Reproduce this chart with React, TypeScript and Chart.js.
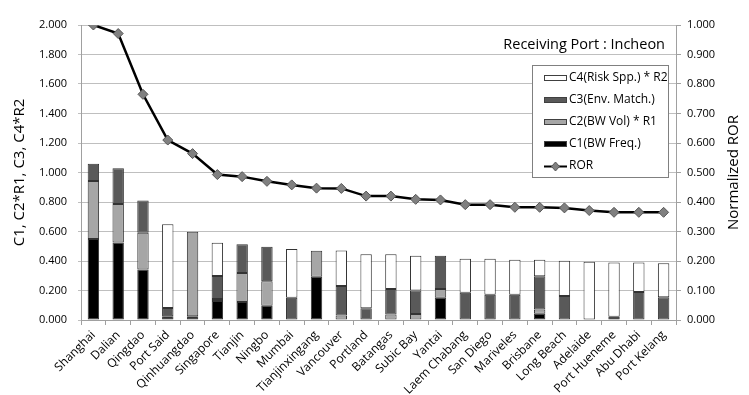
import React, { useEffect, useRef } from "react";
import { Chart, registerables } from "chart.js";

Chart.register(...registerables);

const categories = [
  "Shanghai", "Dalian", "Qingdao", "Port Said", "Qinhuangdao", "Singapore", "Tianjin", "Ningbo",
  "Mumbai", "Tianjinxingang", "Vancouver", "Portland", "Batangas", "Subic Bay", "Yantai",
  "Laem Chabang", "San Diego", "Mariveles", "Brisbane", "Long Beach", "Adelaide",
  "Port Hueneme", "Abu Dhabi", "Port Kelang",
];

const c1BwFreq = [0.55, 0.525, 0.343, 0.025, 0.025, 0.128, 0.122, 0.097, 0, 0.294, 0, 0, 0, 0, 0.151, 0, 0, 0, 0.043, 0, 0, 0.022, 0, 0];
const c2BwVolR1 = [0.393, 0.262, 0.249, 0, 0.574, 0.015, 0.196, 0.165, 0, 0.176, 0.03, 0, 0.038, 0.04, 0.06, 0, 0, 0, 0.029, 0, 0, 0, 0, 0];
const c3EnvMatch = [0.116, 0.242, 0.219, 0.056, 0, 0.155, 0.195, 0.235, 0.151, 0, 0.2, 0.079, 0.172, 0.16, 0.224, 0.185, 0.172, 0.172, 0.224, 0.163, 0, 0, 0.19, 0.154];
const c4RiskR2 = [0, 0, 0, 0.568, 0, 0.226, 0, 0, 0.33, 0, 0.242, 0.366, 0.235, 0.236, 0, 0.231, 0.244, 0.237, 0.113, 0.239, 0.395, 0.367, 0.199, 0.23];
const ror = [1.0, 0.971, 0.765, 0.61, 0.564, 0.493, 0.486, 0.47, 0.458, 0.447, 0.446, 0.42, 0.42, 0.409, 0.407, 0.391, 0.391, 0.382, 0.382, 0.38, 0.371, 0.365, 0.365, 0.365];

const leftAxisTitle = "C1, C2*R1, C3, C4*R2";
const rightAxisTitle = "Normalized ROR";
const chartNote = "Receiving Port : Incheon";

const FONT = "'Open Sans', 'DejaVu Sans', sans-serif";
const nz = (a: number[]) => a.map((v) => (v === 0 ? null : v));

const overlayPlugin = {
  id: "overlay",
  afterDraw(chart: any) {
    const ctx = chart.ctx;
    const area = chart.chartArea;
    ctx.save();
    ctx.font = `14.5px ${FONT}`;
    ctx.fillStyle = "#000";
    ctx.textAlign = "right";
    ctx.textBaseline = "middle";
    ctx.fillText(chartNote, 665, 45);

    // right axis title, reading bottom-to-top
    ctx.save();
    ctx.translate(734, (area.top + area.bottom) / 2);
    ctx.rotate(-Math.PI / 2);
    ctx.font = `15px ${FONT}`;
    ctx.textAlign = "center";
    ctx.textBaseline = "middle";
    ctx.fillText(rightAxisTitle, 0, 0);
    ctx.restore();

    const bx = 532, by = 65, bw = 136, bh = 112;
    ctx.fillStyle = "#fff";
    ctx.fillRect(bx, by, bw, bh);
    ctx.strokeStyle = "#808080";
    ctx.lineWidth = 1;
    ctx.strokeRect(bx + 0.5, by + 0.5, bw, bh);

    const order = [3, 2, 1, 0, 4];
    const ys = [78, 100, 122, 144, 166];
    order.forEach((di, k) => {
      const ds = chart.data.datasets[di];
      const y = ys[k];
      if (ds.type === "line") {
        ctx.strokeStyle = "#000";
        ctx.lineWidth = 2;
        ctx.beginPath();
        ctx.moveTo(544, y + 0.5);
        ctx.lineTo(567, y + 0.5);
        ctx.stroke();
        ctx.fillStyle = "#808080";
        ctx.strokeStyle = "#555";
        ctx.lineWidth = 1;
        ctx.beginPath();
        ctx.moveTo(555.5, y - 4);
        ctx.lineTo(559.5, y + 0.5);
        ctx.lineTo(555.5, y + 5);
        ctx.lineTo(551.5, y + 0.5);
        ctx.closePath();
        ctx.fill();
        ctx.stroke();
      } else {
        ctx.fillStyle = ds.backgroundColor;
        ctx.fillRect(544, y - 3, 23, 6);
        ctx.strokeStyle = "#404040";
        ctx.lineWidth = 1;
        ctx.strokeRect(544.5, y - 2.5, 22, 5);
      }
      ctx.fillStyle = "#000";
      ctx.font = `12px ${FONT}`;
      ctx.textAlign = "left";
      ctx.textBaseline = "middle";
      ctx.fillText(ds.label, 569, y);
    });
    ctx.restore();
  },
};

export default function App() {
  const ref = useRef<HTMLCanvasElement | null>(null);

  useEffect(() => {
    if (!ref.current) return;
    const barCommon = {
      type: "bar" as const,
      yAxisID: "y",
      borderColor: "#333333",
      borderWidth: 1,
      borderSkipped: false,
      categoryPercentage: 1,
      barPercentage: 0.46,
      order: 2,
    };
    const chart = new Chart(ref.current, {
      type: "bar",
      data: {
        labels: categories,
        datasets: [
          { ...barCommon, label: "C1(BW Freq.)", data: nz(c1BwFreq), backgroundColor: "#000000" },
          { ...barCommon, label: "C2(BW Vol) * R1", data: nz(c2BwVolR1), backgroundColor: "#a6a6a6" },
          { ...barCommon, label: "C3(Env. Match.)", data: nz(c3EnvMatch), backgroundColor: "#595959" },
          { ...barCommon, label: "C4(Risk Spp.) * R2", data: nz(c4RiskR2), backgroundColor: "#ffffff" },
          {
            type: "line",
            label: "ROR",
            data: ror,
            yAxisID: "y2",
            borderColor: "#000000",
            borderWidth: 2.5,
            pointStyle: "rectRot",
            pointRadius: 5,
            pointBackgroundColor: "#808080",
            pointBorderColor: "#555555",
            pointBorderWidth: 1,
            tension: 0,
            order: 0,
          } as any,
        ],
      },
      options: {
        animation: false,
        responsive: true,
        maintainAspectRatio: false,
        layout: { padding: { top: 25, left: 0, right: 0, bottom: 0 } },
        plugins: { legend: { display: false }, tooltip: { enabled: false } },
        scales: {
          x: {
            stacked: true,
            offset: true,
            grid: { drawOnChartArea: false, drawTicks: true, tickLength: 5, color: "#a0a0a0", offset: true },
            border: { color: "#a0a0a0" },
            ticks: {
              font: { family: FONT, size: 12 },
              color: "#000",
              minRotation: 45,
              maxRotation: 45,
              autoSkip: false,
              padding: 3,
            },
            afterFit: (s: any) => { s.height = 75; },
          },
          y: {
            stacked: true,
            position: "left",
            min: 0,
            max: 2,
            ticks: {
              stepSize: 0.2,
              font: { family: FONT, size: 11 },
              color: "#000",
              padding: 11,
              callback: (v: any) => Number(v).toFixed(3),
            },
            grid: { color: "#bfbfbf", tickLength: 3, drawTicks: true },
            border: { color: "#a0a0a0" },
            title: { display: true, text: leftAxisTitle, font: { family: FONT, size: 15 }, color: "#000", padding: { top: 11, bottom: 0 } },
            afterFit: (s: any) => { s.width = 81; },
          },
          y2: {
            position: "right",
            min: 0,
            max: 1,
            stacked: false,
            ticks: {
              stepSize: 0.1,
              font: { family: FONT, size: 11 },
              color: "#000",
              padding: 6,
              callback: (v: any) => Number(v).toFixed(3),
            },
            grid: { drawOnChartArea: false, tickLength: 5, color: "#a0a0a0" },
            border: { color: "#a0a0a0" },
            title: { display: false },
            afterFit: (s: any) => { s.width = 73; },
          },
        },
      },
      plugins: [overlayPlugin],
    });
    return () => chart.destroy();
  }, []);

  return (
    <div style={{ position: "absolute", left: 0, top: 0, width: 749, height: 395, background: "#fff" }}>
      <canvas ref={ref} />
    </div>
  );
}
